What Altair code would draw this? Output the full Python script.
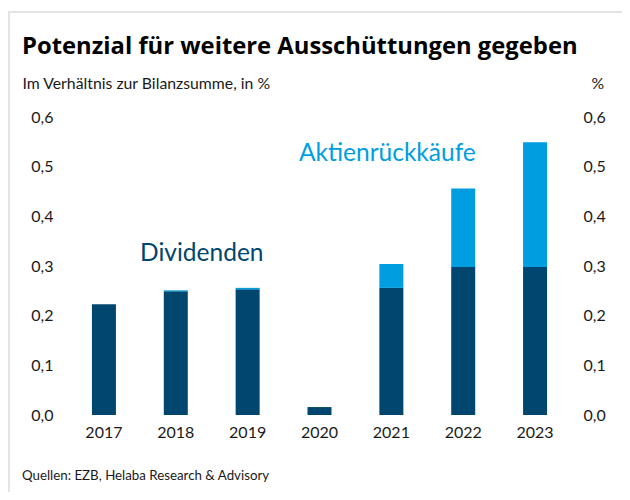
import altair as alt
import pandas as pd

# ---- data ----
years = ["2017", "2018", "2019", "2020", "2021", "2022", "2023"]
dividends = [0.223, 0.249, 0.253, 0.016, 0.256, 0.298, 0.298]
buybacks = [0.0, 0.002, 0.003, 0.0, 0.048, 0.158, 0.251]
series_names = ["Dividenden", "Aktienrückkäufe"]
series_colors = ["#00466E", "#009EE0"]
y_ticks = [0.0, 0.1, 0.2, 0.3, 0.4, 0.5, 0.6]

title_text = "Potenzial für weitere Ausschüttungen gegeben"
subtitle_text = "Im Verhältnis zur Bilanzsumme, in %"
right_unit = "%"
source_text = "Quellen: EZB, Helaba Research & Advisory"

FONT = "Lato"
TITLE_FONT = "Open Sans"
TXT = "#1a1a1a"

rows = []
for i, y in enumerate(years):
    rows.append({"year": y, "series": series_names[0], "value": dividends[i], "ord": 0})
    rows.append({"year": y, "series": series_names[1], "value": buybacks[i], "ord": 1})
df = pd.DataFrame(rows)

one = pd.DataFrame({"a": [0]})
label_expr = "replace(format(datum.value, '.1f'), '.', ',')"

x_enc = alt.X(
    "year:N", sort=years,
    scale=alt.Scale(paddingInner=0.666, paddingOuter=0.333),
    axis=alt.Axis(title=None, labelAngle=0, labelFontSize=16, labelColor=TXT,
                  labelFont=FONT, domain=False, ticks=False, labelPadding=9),
)
color_enc = alt.Color("series:N", scale=alt.Scale(domain=series_names, range=series_colors), legend=None)

bars = alt.Chart(df).mark_bar().encode(
    x=x_enc,
    y=alt.Y("value:Q", stack="zero", scale=alt.Scale(domain=[0, 0.6], nice=False),
            axis=alt.Axis(orient="left", values=y_ticks, labelExpr=label_expr, grid=False,
                          domain=False, ticks=False, labelPadding=15, labelFontSize=16,
                          labelColor=TXT, labelFont=FONT,
                          title=subtitle_text, titleAngle=0, titleAlign="left",
                          titleBaseline="alphabetic", titleX=-46, titleY=-29,
                          titleFontWeight="normal", titleFontSize=15.8, titleColor=TXT,
                          titleFont=FONT)),
    color=color_enc,
    order=alt.Order("ord:Q"),
)

right_axis = alt.Chart(df).mark_bar(opacity=0).encode(
    x=x_enc,
    y=alt.Y("value:Q", stack="zero", scale=alt.Scale(domain=[0, 0.6], nice=False),
            axis=alt.Axis(orient="right", values=y_ticks, labelExpr=label_expr, grid=False,
                          domain=False, ticks=False, labelPadding=12, labelFontSize=16,
                          labelColor=TXT, labelFont=FONT,
                          title=right_unit, titleAngle=0, titleAlign="left",
                          titleBaseline="alphabetic", titleX=20, titleY=-29,
                          titleFontWeight="normal", titleFontSize=15.8, titleColor=TXT,
                          titleFont=FONT)),
    order=alt.Order("ord:Q"),
)

lab_div = alt.Chart(pd.DataFrame({"year": ["2018"], "v": [0.324], "t": [series_names[0]]})).mark_text(
    font=FONT, fontSize=24.5, color=series_colors[0], dx=26, baseline="middle", align="center"
).encode(x=alt.X("year:N", sort=years), y=alt.Y("v:Q", scale=alt.Scale(domain=[0, 0.6]), axis=None), text="t:N")

lab_buy = alt.Chart(pd.DataFrame({"year": ["2021"], "v": [0.525], "t": [series_names[1]]})).mark_text(
    font=FONT, fontSize=24.5, color=series_colors[1], dx=-4, baseline="middle", align="center"
).encode(x=alt.X("year:N", sort=years), y=alt.Y("v:Q", scale=alt.Scale(domain=[0, 0.6]), axis=None), text="t:N")

border = alt.Chart(one).mark_rect(fillOpacity=0, stroke="#e3e3e3", strokeWidth=2).encode(
    x=alt.value(-59), x2=alt.value(700), y=alt.value(-105), y2=alt.value(700)
)

title = alt.Chart(one).mark_text(font=TITLE_FONT, fontSize=23.8, fontWeight="bold", color="#000000",
                                 align="left", baseline="alphabetic").encode(
    x=alt.value(-46), y=alt.value(-63), text=alt.value(title_text))

footer = alt.Chart(one).mark_text(font=FONT, fontSize=13.3, color=TXT,
                                  align="left", baseline="alphabetic").encode(
    x=alt.value(-46), y=alt.value(363), text=alt.value(source_text))

chart = alt.layer(border, bars, right_axis, lab_div, lab_buy, title, footer).resolve_scale(
    y="independent"
).properties(
    width=503, height=298,
    autosize=alt.AutoSizeParams(type="none"),
    padding={"left": 60, "top": 109, "right": 51, "bottom": 77},
    background="white",
).configure_view(stroke=None)

chart.save("out.html", embed_options={"renderer": "svg", "actions": False})
